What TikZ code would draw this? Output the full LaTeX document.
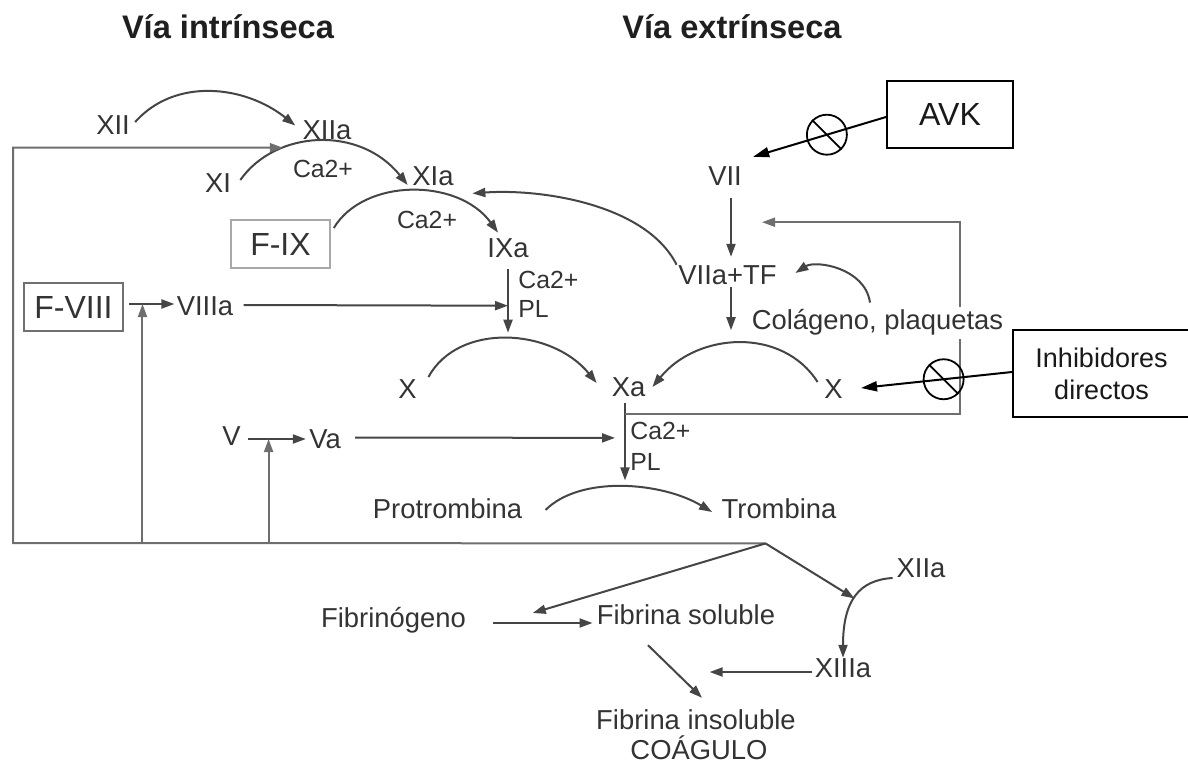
\documentclass[tikz,border=0pt]{standalone}
\usepackage{fontspec}
\setmainfont{Liberation Sans}
\usetikzlibrary{arrows.meta}
\definecolor{txt}{HTML}{333333}
\definecolor{lin}{HTML}{454545}
\definecolor{lin2}{HTML}{6E6E6E}
\definecolor{boxl}{HTML}{A8A8A8}
\definecolor{boxd}{HTML}{707070}
\newcommand{\fsM}{\fontsize{13.7}{16}\selectfont}
\newcommand{\fsS}{\fontsize{12.4}{15}\selectfont}
\newcommand{\fsB}{\fontsize{16}{19}\selectfont}
\newcommand{\fsT}{\fontsize{16.3}{19}\selectfont\bfseries}
\newcommand{\fsI}{\fontsize{13.5}{16}\selectfont}
\tikzset{
  lab/.style={font=\fsM, text=txt, inner sep=0pt, text height=9.81pt, text depth=0pt},
  sm/.style={font=\fsS, text=txt, inner sep=0pt, text height=8.88pt, text depth=0pt},
  ttl/.style={font=\fsT, text=black!88, inner sep=0pt, text height=11.67pt, text depth=0pt},
  fbox/.style={font=\fsB, text=txt, inner sep=0pt, text height=11.46pt, text depth=0pt,
     minimum width=49.5pt, minimum height=24pt, line width=0.8pt},
  blk/.style={draw=black, line width=1pt, font=\fsB, text=black!90, inner sep=0pt,
     minimum width=63pt, minimum height=33.5pt},
  blk2/.style={draw=black, line width=1pt, font=\fsI, text=black!90, inner sep=0pt,
     align=center, minimum width=88.5pt, minimum height=43.5pt},
  colg/.style={font=\fsM, text=txt, fill=white, anchor=base, inner xsep=0pt, inner ysep=1.5pt,
     text height=9.81pt, text depth=3pt},
  arr/.style={draw=lin, line width=1pt, -{Triangle[length=6.5pt,width=4.5pt]}},
  arrB/.style={draw=black, line width=1pt, -{Triangle[length=8pt,width=5pt]}},
  inhib/.style={circle, draw=black, line width=0.9pt, minimum size=20pt, inner sep=0pt},
}
\begin{document}
\begin{tikzpicture}[x=0.5pt,y=-0.5pt]
\useasboundingbox (0,0) rectangle (1188,765);

% titles
\node[ttl] (tI) at (228,26.5) {Vía intrínseca};
\node[ttl] (tE) at (732,26.5) {Vía extrínseca};

% labels
\node[lab] (XII) at (113,125) {XII};
\node[lab] (XIIa) at (327,129.5) {XIIa};
\node[lab] (XI) at (218,183) {XI};
\node[sm] (ca1) at (323,169) {Ca2+};
\node[lab] (XIa) at (433,176) {XIa};
\node[fbox, draw=boxl] (FIX) at (280.5,244) {F-IX};
\node[sm] (ca2) at (427,220) {Ca2+};
\node[lab] (IXa) at (508,247.5) {IXa};
\node[sm, anchor=west] (ca3) at (518,280) {Ca2+};
\node[sm, anchor=west] (PL1) at (518,309) {PL};
\node[fbox, draw=boxd] (FVIII) at (73.5,307) {F-VIII};
\node[lab] (VIIIa) at (205,305.5) {VIIIa};
\node[lab] (X1) at (407.5,389) {X};
\node[lab] (Xa) at (628.5,386.5) {Xa};
\node[lab] (X2) at (833.5,389) {X};
\node[lab] (V) at (231.5,436) {V};
\node[lab] (Va) at (325,439) {Va};
\node[sm, anchor=west] (ca4) at (630,431) {Ca2+};
\node[sm, anchor=west] (PL2) at (630,461.5) {PL};
\node[lab] (Prot) at (447.5,508.5) {Protrombina};
\node[lab] (Tromb) at (779,508.5) {Trombina};
\node[lab] (VII) at (725,176) {VII};
\node[lab] (VIIaTF) at (727.5,275) {VIIa+TF};
\node[blk] (AVK) at (950,114.5) {AVK};
\node[blk2] (Inh) at (1101.5,373.5) {Inhibidores\\directos};
\node[lab] (Fib) at (393.5,618) {Fibrinógeno};
\node[lab] (FibS) at (686,615) {Fibrina soluble};
\node[lab] (XIIa2) at (921,568) {XIIa};
\node[lab] (XIIIa) at (843,668) {XIIIa};
\node[lab] (FibI) at (696,720) {Fibrina insoluble};
\node[lab] (Coag) at (699,749.5) {COÁGULO};

% intrinsic cascade
\draw[arr] ([shift={(5,-3)}]XII.east) .. controls +(40,-45) and +(-50,-40) .. ([shift={(-7,-4)}]XIIa.west);
\draw[arr] ([shift={(9,-3)}]XI.east) .. controls +(35,-50) and +(-48,-60) .. ([shift={(-4.4,9)}]XIa.west) coordinate[pos=0.3] (j1);
\draw[arr] ([shift={(3,-16)}]FIX.east) .. controls +(30,-50) and +(-40,-55) .. ([shift={(-10,-4.7)}]IXa.north);
\draw[arr] ([shift={(-1.4,0)}]VIIaTF.north west) .. controls +(-30,-60) and +(70,-5) .. ([shift={(18.4,7.2)}]XIa.south east);
\draw[arr] ([shift={(0,11)}]IXa.south) -- ([shift={(0,75)}]IXa.south) coordinate[pos=0.578] (j2);
\draw[arr] ([shift={(10,-0.5)}]VIIIa.east) -- (j2);
\draw[arr] ([shift={(5,-3)}]FVIII.east) -- ([shift={(-2,-1.5)}]VIIIa.west) coordinate[pos=0.3] (j3);
\draw[arr] ([shift={(6.5,3)}]V.east) -- ([shift={(-3,0)}]Va.west) coordinate[pos=0.361] (j4);
\draw[arr] ([shift={(-3.5,6.7)}]Xa.south) -- ([shift={(-3.5,83.7)}]Xa.south) coordinate[pos=0.448] (j5) coordinate[pos=0.143] (j6);
\draw[arr] ([shift={(14,-1.5)}]Va.east) -- ([shift={(-10,0)}]j5);

% extrinsic
\draw[arr, draw=lin2] (j6) -- ++(335,0) |- ([shift={(37,36)}]VII.south);
\node[colg] (Col) at (877.5,329.8) {Colágeno, plaquetas};
\draw[arr] ([shift={(3.5,2)}]VIIaTF.south) -- ([shift={(3.5,45)}]VIIaTF.south);
\draw[arr] ([shift={(6,12)}]VII.south) -- ([shift={(3.5,-8)}]VIIaTF.north);
\draw[arr] ([shift={(11.4,-12)}]X1.east) .. controls +(30,-55) and +(-45,-55) .. ([shift={(-14.7,-3.5)}]Xa.west);
\draw[arr] ([shift={(-6.4,-7)}]X2.west) .. controls +(-35,-55) and +(45,-55) .. ([shift={(6.8,0.5)}]Xa.east);
\draw[arr] ([shift={(23,1.5)}]Prot.east) .. controls +(35,-35) and +(-50,-30) .. ([shift={(-9.2,3.5)}]Tromb.west);
\draw[arr] ([shift={(-7.5,-4.2)}]Col.north) .. controls +(-5,-35) and +(20,-13) .. ([shift={(18.4,-2)}]VIIaTF.east);

% inhibitors
\draw[arrB] ([shift={(0,2.5)}]AVK.west) -- ([shift={(11,-9)}]VII.north east) node[inhib, pos=0.445] (c1) {};
\draw[black, line width=0.9pt] (c1.135) -- (c1.-45);
\draw[arrB] ([shift={(0,-1.5)}]Inh.west) -- ([shift={(18,-1)}]X2.east) node[inhib, pos=0.453] (c2) {};
\draw[black, line width=0.9pt] (c2.135) -- (c2.-45);

% thrombin feedback loop
\coordinate (apex) at ([shift={(-13.5,24.7)}]Tromb.south);
\coordinate (bl) at (13,543);
\draw[arr, draw=lin2] (apex) -- (bl) -- (bl |- j1) -- (j1);
\draw[arr, draw=lin2] (j3 |- bl) -- (j3);
\draw[arr, draw=lin2] (j4 |- bl) -- (j4);

% fibrin
\draw[arr] (apex) -- ([shift={(66.5,-5)}]Fib.east);
\draw[arr] ([shift={(-3.6,10)}]XIIa2.west) .. controls +(-33,2) and +(0,-58) .. (XIIIa.north) coordinate[pos=0.52] (j7);
\draw[arr] (apex) -- (j7);
\draw[arr] ([shift={(27,5)}]Fib.east) -- ([shift={(-4,8)}]FibS.west);
\draw[arr] ([shift={(-2,4)}]XIIIa.west) -- ([shift={(-104.8,4)}]XIIIa.west);
\draw[arr] ([shift={(-38,20)}]FibS.south) -- ([shift={(6,-12)}]FibI.north);
\end{tikzpicture}
\end{document}
